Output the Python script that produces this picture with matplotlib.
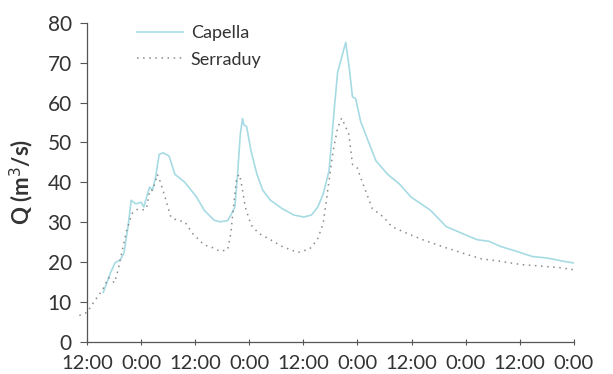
import matplotlib
matplotlib.use("Agg")
import matplotlib.pyplot as plt

# hours from the first 12:00 tick
capella_t = [3.6, 5.2, 6.2, 7.4, 8.2, 9.1, 9.8, 10.8, 12.0, 12.6, 13.2, 13.9, 14.5, 15.2,
             16.0, 16.9, 18.2, 19.5, 21.7, 24.3, 26.0, 28.2, 29.5, 31.2, 32.1, 32.8, 33.4,
             34.0, 34.5, 34.8, 35.4, 36.4, 37.7, 39.0, 40.7, 43.3, 45.9, 48.1, 49.8, 51.2,
             52.4, 53.7, 55.0, 55.6, 56.8, 57.4, 58.2, 58.9, 59.6, 60.7, 62.4, 64.1, 66.7,
             69.3, 71.9, 76.2, 79.7, 83.2, 86.6, 89.2, 91.8, 95.3, 98.8, 102.2, 105.7, 107.9]
capella_q = [12.4, 17.3, 19.8, 20.6, 22.3, 28.9, 35.5, 34.6, 35.0, 33.8, 36.3, 38.8, 38.0, 41.2,
             47.0, 47.4, 46.6, 42.0, 40.0, 36.3, 33.0, 30.5, 30.1, 30.4, 32.2, 33.8, 42.0,
             52.0, 56.0, 54.4, 54.0, 47.8, 42.0, 38.0, 35.5, 33.4, 31.8, 31.3, 31.8, 33.8,
             37.1, 42.9, 60.2, 67.6, 72.6, 75.1, 68.5, 61.4, 61.0, 55.3, 50.3, 45.4, 42.0,
             39.6, 36.3, 33.0, 28.9, 27.2, 25.6, 25.2, 23.9, 22.7, 21.4, 21.0, 20.2, 19.8]

serraduy_t = [-1.7, 0.0, 1.7, 3.5, 4.8, 6.1, 6.9, 8.0, 8.8, 10.0, 11.1, 12.1, 13.2, 13.9, 14.6,
              15.6, 16.3, 17.3, 18.6, 19.9, 21.7, 23.4, 26.0, 28.2, 29.5, 31.2, 31.9, 32.5,
              33.2, 33.8, 34.4, 35.1, 36.4, 38.1, 40.7, 43.3, 46.8, 49.4, 51.1, 52.4, 53.7,
              54.6, 55.6, 56.5, 57.2, 58.1, 58.9, 59.9, 61.5, 63.3, 65.8, 67.6, 71.0, 74.5,
              78.8, 83.2, 87.5, 91.8, 96.2, 100.5, 104.8, 107.9]
serraduy_q = [6.6, 7.4, 10.3, 13.2, 16.1, 14.8, 18.1, 23.9, 28.0, 32.2, 33.2, 33.0, 33.4, 38.0, 38.0,
              42.0, 40.0, 36.3, 31.3, 30.5, 30.1, 27.2, 24.3, 23.5, 22.7, 23.1, 27.2, 33.8,
              41.2, 42.0, 38.8, 33.8, 29.3, 27.2, 25.6, 23.9, 22.4, 23.3, 25.6, 29.7, 40.4,
              47.8, 53.6, 56.1, 54.4, 52.0, 44.5, 43.7, 38.8, 33.4, 31.3, 28.9, 27.2, 25.6,
              23.9, 22.3, 20.8, 20.2, 19.4, 19.0, 18.6, 18.1]

tick_hours = [0, 12, 24, 36, 48, 60, 72, 84, 96, 108]
tick_labels = ["12:00", "0:00", "12:00", "0:00", "12:00", "0:00", "12:00", "0:00", "12:00", "0:00"]

plt.rcParams["font.family"] = ["Lato", "DejaVu Sans"]

fig = plt.figure(figsize=(6.13, 3.74), dpi=100)
ax = fig.add_axes([0.142, 0.086, 0.794, 0.853])

ax.plot(capella_t, capella_q, color="#a6dbe4", lw=1.2, label="Capella")
ax.plot(serraduy_t, serraduy_q, color="#8a8a8a", lw=1.1, ls=(0, (1, 3)),
        label="Serraduy", clip_on=False)

ax.set_xlim(0, 108)
ax.set_ylim(0, 80)
ax.set_xticks(tick_hours)
ax.set_xticklabels(tick_labels)
ax.set_yticks(range(0, 81, 10))

for side in ("top", "right"):
    ax.spines[side].set_visible(False)
for side in ("left", "bottom"):
    ax.spines[side].set_color("#555555")
    ax.spines[side].set_linewidth(0.9)

ax.tick_params(axis="y", direction="out", length=5, color="#555555", labelsize=15,
               labelcolor="#333333", pad=6)
ax.tick_params(axis="x", direction="inout", length=5, color="#555555", labelsize=14.5,
               labelcolor="#333333", pad=7)

ax.set_ylabel("Q (m$^3$/s)", fontsize=16, fontweight="bold", color="#333333", labelpad=8)

ax.legend(loc="upper left", bbox_to_anchor=(0.07, 1.043), frameon=False, fontsize=13,
          handlelength=2.5, handletextpad=0.45, labelspacing=0.57, labelcolor="#333333")

fig.savefig("out.png", dpi=100)
